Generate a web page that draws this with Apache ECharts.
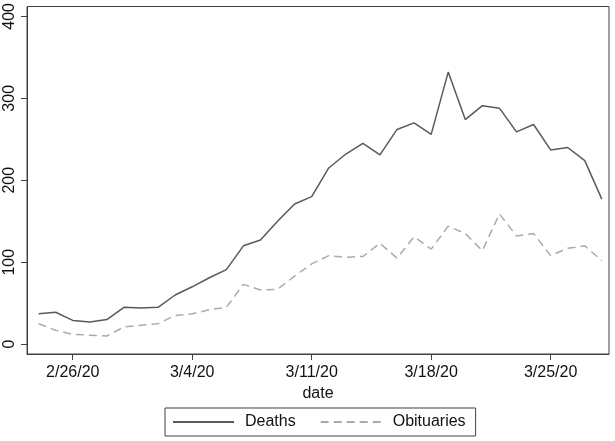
<!DOCTYPE html>
<html>
<head>
<meta charset="utf-8">
<script src="https://cdn.jsdelivr.net/npm/echarts@6/dist/echarts.min.js"></script>
<style>
html,body{margin:0;padding:0;background:#fff;}
#chart{width:615px;height:441px;}
</style>
</head>
<body>
<div id="chart"></div>
<script>
const dates = ['2/24/20','2/25/20','2/26/20','2/27/20','2/28/20','2/29/20','3/1/20','3/2/20','3/3/20','3/4/20',
  '3/5/20','3/6/20','3/7/20','3/8/20','3/9/20','3/10/20','3/11/20','3/12/20','3/13/20','3/14/20',
  '3/15/20','3/16/20','3/17/20','3/18/20','3/19/20','3/20/20','3/21/20','3/22/20','3/23/20','3/24/20',
  '3/25/20','3/26/20','3/27/20','3/28/20'];
const deaths = [37,39,29,27,30,45,44,45,60,70,81,91,120,127,150,171,180,215,232,245,231,262,270,256,332,274,291,288,259,268,237,240,224,177];
const obituaries = [25,17,12,11,10,21,23,25,35,37,42,45,73,66,67,83,98,108,106,107,123,105,131,116,144,135,114,159,132,135,108,117,120,102];
const xTickLabels = ['2/26/20','3/4/20','3/11/20','3/18/20','3/25/20'];
const yTicks = [0,100,200,300,400];

function dayIndex(s){
  const p = s.split('/');
  const d = new Date(2000 + (+p[2]), (+p[0]) - 1, +p[1]);
  const p0 = dates[0].split('/');
  const d0 = new Date(2000 + (+p0[2]), (+p0[0]) - 1, +p0[1]);
  return Math.round((d - d0) / 86400000);
}
const xTickVals = xTickLabels.map(dayIndex);
const labelOf = {};
xTickVals.forEach((v,i)=>{labelOf[v]=xTickLabels[i];});

const font = '"Liberation Sans", Arial, sans-serif';
const chart = echarts.init(document.getElementById('chart'), null, {renderer:'canvas'});
chart.setOption({
  animation:false,
  backgroundColor:'#fff',
  textStyle:{fontFamily:font},
  grid:{left:27, right:6, top:5, bottom:87, show:true, borderColor:'#404040', borderWidth:1, backgroundColor:'#fff'},
  xAxis:{
    type:'value', min:-0.68, max:33.42,
    name:'date', nameLocation:'middle', nameGap:27,
    nameTextStyle:{fontSize:16, color:'#111', fontFamily:font},
    axisLine:{show:true, onZero:false, lineStyle:{color:'#404040', width:1}},
    axisTick:{show:true, inside:false, length:6, customValues:xTickVals, lineStyle:{color:'#404040'}},
    axisLabel:{customValues:xTickVals, formatter:v=>labelOf[v]||'', fontSize:16, color:'#111', margin:11, fontFamily:font},
    splitLine:{show:false}
  },
  yAxis:{
    type:'value', min:-12, max:412,
    axisLine:{show:true, onZero:false, lineStyle:{color:'#404040', width:1}},
    axisTick:{show:true, inside:false, length:6, customValues:yTicks, lineStyle:{color:'#404040'}},
    axisLabel:{customValues:yTicks, rotate:90, fontSize:16, color:'#111', margin:9, fontFamily:font},
    splitLine:{show:false}
  },
  legend:{
    left:165, top:408,
    orient:'horizontal',
    borderColor:'#404040', borderWidth:1,
    padding:[6,10,6,7],
    itemWidth:61, itemHeight:16, itemGap:24,
    itemStyle:{opacity:0},
    textStyle:{fontSize:16, color:'#111', fontFamily:font, padding:[0,0,0,6]},
    data:['Deaths','Obituaries']
  },
  series:[
    {name:'Deaths', type:'line', symbol:'none',
     data:dates.map((d,i)=>[dayIndex(d), deaths[i]]),
     lineStyle:{color:'#5a5a5a', width:1.5}, itemStyle:{color:'#5a5a5a'}},
    {name:'Obituaries', type:'line', symbol:'none',
     data:dates.map((d,i)=>[dayIndex(d), obituaries[i]]),
     lineStyle:{color:'#ababab', width:1.5, type:[8,5]}, itemStyle:{color:'#ababab'}}
  ]
});
</script>
</body>
</html>
